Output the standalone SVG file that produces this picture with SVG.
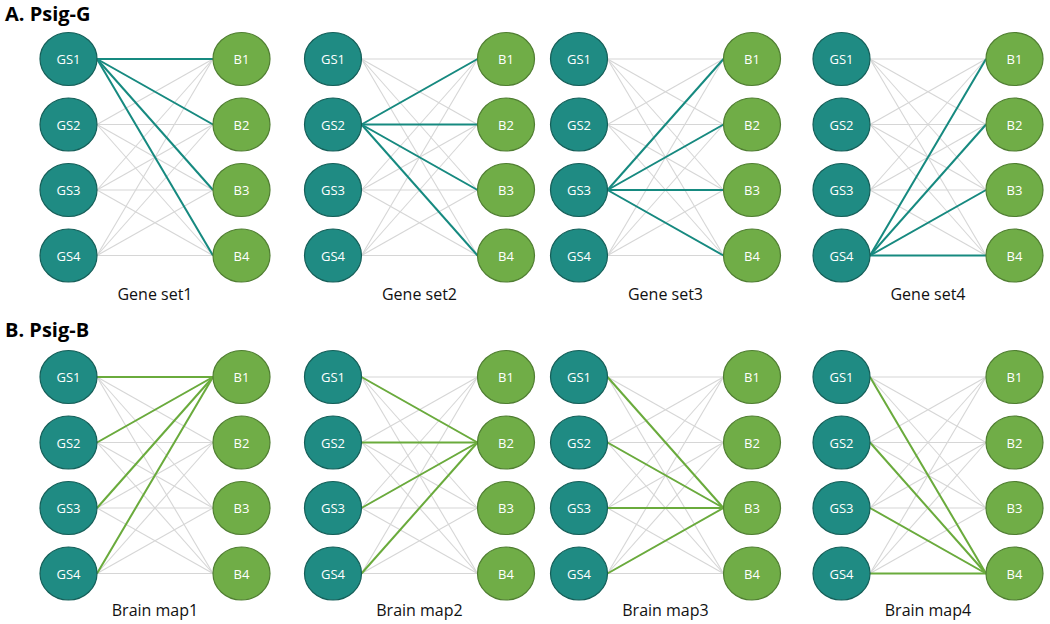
<svg xmlns="http://www.w3.org/2000/svg" width="1050" height="624" viewBox="0 0 1050 624">
<style>
.gs{fill:#1f8b83;stroke:#155f59;stroke-width:1.2}
.b{fill:#70ad47;stroke:#507e32;stroke-width:1.2}
.nt{font-family:"Open Sans","Liberation Sans",sans-serif;font-size:13px;fill:#fff;text-anchor:middle;dominant-baseline:central}
.lab{font-family:"Open Sans","Liberation Sans",sans-serif;font-size:16px;fill:#111;text-anchor:middle}
.ttl{font-family:"Open Sans","Liberation Sans",sans-serif;font-size:20px;font-weight:bold;fill:#000}
.g{stroke:#d6d6d6;stroke-width:1.1;fill:none}
.ht{stroke:#168a80;stroke-width:2;fill:none}
.hg{stroke:#6aab3c;stroke-width:2;fill:none}
</style>
<defs>
<g id="grid">
<line class="g" x1="0" y1="0" x2="116" y2="0"/><line class="g" x1="0" y1="0" x2="116" y2="65.5"/><line class="g" x1="0" y1="0" x2="116" y2="131"/><line class="g" x1="0" y1="0" x2="116" y2="196.5"/>
<line class="g" x1="0" y1="65.5" x2="116" y2="0"/><line class="g" x1="0" y1="65.5" x2="116" y2="65.5"/><line class="g" x1="0" y1="65.5" x2="116" y2="131"/><line class="g" x1="0" y1="65.5" x2="116" y2="196.5"/>
<line class="g" x1="0" y1="131" x2="116" y2="0"/><line class="g" x1="0" y1="131" x2="116" y2="65.5"/><line class="g" x1="0" y1="131" x2="116" y2="131"/><line class="g" x1="0" y1="131" x2="116" y2="196.5"/>
<line class="g" x1="0" y1="196.5" x2="116" y2="0"/><line class="g" x1="0" y1="196.5" x2="116" y2="65.5"/><line class="g" x1="0" y1="196.5" x2="116" y2="131"/><line class="g" x1="0" y1="196.5" x2="116" y2="196.5"/>
</g>
</defs>
<text class="ttl" x="5" y="21">A. Psig-G</text>
<text class="ttl" x="5" y="337">B. Psig-B</text>
<g id="connectors">
<use href="#grid" x="97" y="59"/>
<use href="#grid" x="361.5" y="59"/>
<use href="#grid" x="607.5" y="59"/>
<use href="#grid" x="870" y="59"/>
<use href="#grid" x="97" y="377"/>
<use href="#grid" x="361.5" y="377"/>
<use href="#grid" x="607.5" y="377"/>
<use href="#grid" x="870" y="377"/>
<line class="ht" x1="97" y1="59" x2="213" y2="59"/><line class="ht" x1="97" y1="59" x2="213" y2="124.5"/><line class="ht" x1="97" y1="59" x2="213" y2="190"/><line class="ht" x1="97" y1="59" x2="213" y2="255.5"/>
<line class="ht" x1="361.5" y1="124.5" x2="477.5" y2="59"/><line class="ht" x1="361.5" y1="124.5" x2="477.5" y2="124.5"/><line class="ht" x1="361.5" y1="124.5" x2="477.5" y2="190"/><line class="ht" x1="361.5" y1="124.5" x2="477.5" y2="255.5"/>
<line class="ht" x1="607.5" y1="190" x2="723.5" y2="59"/><line class="ht" x1="607.5" y1="190" x2="723.5" y2="124.5"/><line class="ht" x1="607.5" y1="190" x2="723.5" y2="190"/><line class="ht" x1="607.5" y1="190" x2="723.5" y2="255.5"/>
<line class="ht" x1="870" y1="255.5" x2="986" y2="59"/><line class="ht" x1="870" y1="255.5" x2="986" y2="124.5"/><line class="ht" x1="870" y1="255.5" x2="986" y2="190"/><line class="ht" x1="870" y1="255.5" x2="986" y2="255.5"/>
<line class="hg" x1="97" y1="377" x2="213" y2="377"/><line class="hg" x1="97" y1="442.5" x2="213" y2="377"/><line class="hg" x1="97" y1="508" x2="213" y2="377"/><line class="hg" x1="97" y1="573.5" x2="213" y2="377"/>
<line class="hg" x1="361.5" y1="377" x2="477.5" y2="442.5"/><line class="hg" x1="361.5" y1="442.5" x2="477.5" y2="442.5"/><line class="hg" x1="361.5" y1="508" x2="477.5" y2="442.5"/><line class="hg" x1="361.5" y1="573.5" x2="477.5" y2="442.5"/>
<line class="hg" x1="607.5" y1="377" x2="723.5" y2="508"/><line class="hg" x1="607.5" y1="442.5" x2="723.5" y2="508"/><line class="hg" x1="607.5" y1="508" x2="723.5" y2="508"/><line class="hg" x1="607.5" y1="573.5" x2="723.5" y2="508"/>
<line class="hg" x1="870" y1="377" x2="986" y2="573.5"/><line class="hg" x1="870" y1="442.5" x2="986" y2="573.5"/><line class="hg" x1="870" y1="508" x2="986" y2="573.5"/><line class="hg" x1="870" y1="573.5" x2="986" y2="573.5"/>
</g>
<g id="A1-GS1"><ellipse class="gs" cx="68.5" cy="59" rx="28.5" ry="26.5"/><text class="nt" x="68.5" y="59">GS1</text></g>
<g id="A1-GS2"><ellipse class="gs" cx="68.5" cy="124.5" rx="28.5" ry="26.5"/><text class="nt" x="68.5" y="124.5">GS2</text></g>
<g id="A1-GS3"><ellipse class="gs" cx="68.5" cy="190" rx="28.5" ry="26.5"/><text class="nt" x="68.5" y="190">GS3</text></g>
<g id="A1-GS4"><ellipse class="gs" cx="68.5" cy="255.5" rx="28.5" ry="26.5"/><text class="nt" x="68.5" y="255.5">GS4</text></g>
<g id="A1-B1"><ellipse class="b" cx="241.5" cy="59" rx="28.5" ry="26.5"/><text class="nt" x="241.5" y="59">B1</text></g>
<g id="A1-B2"><ellipse class="b" cx="241.5" cy="124.5" rx="28.5" ry="26.5"/><text class="nt" x="241.5" y="124.5">B2</text></g>
<g id="A1-B3"><ellipse class="b" cx="241.5" cy="190" rx="28.5" ry="26.5"/><text class="nt" x="241.5" y="190">B3</text></g>
<g id="A1-B4"><ellipse class="b" cx="241.5" cy="255.5" rx="28.5" ry="26.5"/><text class="nt" x="241.5" y="255.5">B4</text></g>
<text class="lab" x="155" y="300">Gene set1</text>

<g id="A2-GS1"><ellipse class="gs" cx="333" cy="59" rx="28.5" ry="26.5"/><text class="nt" x="333" y="59">GS1</text></g>
<g id="A2-GS2"><ellipse class="gs" cx="333" cy="124.5" rx="28.5" ry="26.5"/><text class="nt" x="333" y="124.5">GS2</text></g>
<g id="A2-GS3"><ellipse class="gs" cx="333" cy="190" rx="28.5" ry="26.5"/><text class="nt" x="333" y="190">GS3</text></g>
<g id="A2-GS4"><ellipse class="gs" cx="333" cy="255.5" rx="28.5" ry="26.5"/><text class="nt" x="333" y="255.5">GS4</text></g>
<g id="A2-B1"><ellipse class="b" cx="506" cy="59" rx="28.5" ry="26.5"/><text class="nt" x="506" y="59">B1</text></g>
<g id="A2-B2"><ellipse class="b" cx="506" cy="124.5" rx="28.5" ry="26.5"/><text class="nt" x="506" y="124.5">B2</text></g>
<g id="A2-B3"><ellipse class="b" cx="506" cy="190" rx="28.5" ry="26.5"/><text class="nt" x="506" y="190">B3</text></g>
<g id="A2-B4"><ellipse class="b" cx="506" cy="255.5" rx="28.5" ry="26.5"/><text class="nt" x="506" y="255.5">B4</text></g>
<text class="lab" x="419.5" y="300">Gene set2</text>

<g id="A3-GS1"><ellipse class="gs" cx="579" cy="59" rx="28.5" ry="26.5"/><text class="nt" x="579" y="59">GS1</text></g>
<g id="A3-GS2"><ellipse class="gs" cx="579" cy="124.5" rx="28.5" ry="26.5"/><text class="nt" x="579" y="124.5">GS2</text></g>
<g id="A3-GS3"><ellipse class="gs" cx="579" cy="190" rx="28.5" ry="26.5"/><text class="nt" x="579" y="190">GS3</text></g>
<g id="A3-GS4"><ellipse class="gs" cx="579" cy="255.5" rx="28.5" ry="26.5"/><text class="nt" x="579" y="255.5">GS4</text></g>
<g id="A3-B1"><ellipse class="b" cx="752" cy="59" rx="28.5" ry="26.5"/><text class="nt" x="752" y="59">B1</text></g>
<g id="A3-B2"><ellipse class="b" cx="752" cy="124.5" rx="28.5" ry="26.5"/><text class="nt" x="752" y="124.5">B2</text></g>
<g id="A3-B3"><ellipse class="b" cx="752" cy="190" rx="28.5" ry="26.5"/><text class="nt" x="752" y="190">B3</text></g>
<g id="A3-B4"><ellipse class="b" cx="752" cy="255.5" rx="28.5" ry="26.5"/><text class="nt" x="752" y="255.5">B4</text></g>
<text class="lab" x="665.5" y="300">Gene set3</text>

<g id="A4-GS1"><ellipse class="gs" cx="841.5" cy="59" rx="28.5" ry="26.5"/><text class="nt" x="841.5" y="59">GS1</text></g>
<g id="A4-GS2"><ellipse class="gs" cx="841.5" cy="124.5" rx="28.5" ry="26.5"/><text class="nt" x="841.5" y="124.5">GS2</text></g>
<g id="A4-GS3"><ellipse class="gs" cx="841.5" cy="190" rx="28.5" ry="26.5"/><text class="nt" x="841.5" y="190">GS3</text></g>
<g id="A4-GS4"><ellipse class="gs" cx="841.5" cy="255.5" rx="28.5" ry="26.5"/><text class="nt" x="841.5" y="255.5">GS4</text></g>
<g id="A4-B1"><ellipse class="b" cx="1014.5" cy="59" rx="28.5" ry="26.5"/><text class="nt" x="1014.5" y="59">B1</text></g>
<g id="A4-B2"><ellipse class="b" cx="1014.5" cy="124.5" rx="28.5" ry="26.5"/><text class="nt" x="1014.5" y="124.5">B2</text></g>
<g id="A4-B3"><ellipse class="b" cx="1014.5" cy="190" rx="28.5" ry="26.5"/><text class="nt" x="1014.5" y="190">B3</text></g>
<g id="A4-B4"><ellipse class="b" cx="1014.5" cy="255.5" rx="28.5" ry="26.5"/><text class="nt" x="1014.5" y="255.5">B4</text></g>
<text class="lab" x="928" y="300">Gene set4</text>

<g id="B1-GS1"><ellipse class="gs" cx="68.5" cy="377" rx="28.5" ry="26.5"/><text class="nt" x="68.5" y="377">GS1</text></g>
<g id="B1-GS2"><ellipse class="gs" cx="68.5" cy="442.5" rx="28.5" ry="26.5"/><text class="nt" x="68.5" y="442.5">GS2</text></g>
<g id="B1-GS3"><ellipse class="gs" cx="68.5" cy="508" rx="28.5" ry="26.5"/><text class="nt" x="68.5" y="508">GS3</text></g>
<g id="B1-GS4"><ellipse class="gs" cx="68.5" cy="573.5" rx="28.5" ry="26.5"/><text class="nt" x="68.5" y="573.5">GS4</text></g>
<g id="B1-B1"><ellipse class="b" cx="241.5" cy="377" rx="28.5" ry="26.5"/><text class="nt" x="241.5" y="377">B1</text></g>
<g id="B1-B2"><ellipse class="b" cx="241.5" cy="442.5" rx="28.5" ry="26.5"/><text class="nt" x="241.5" y="442.5">B2</text></g>
<g id="B1-B3"><ellipse class="b" cx="241.5" cy="508" rx="28.5" ry="26.5"/><text class="nt" x="241.5" y="508">B3</text></g>
<g id="B1-B4"><ellipse class="b" cx="241.5" cy="573.5" rx="28.5" ry="26.5"/><text class="nt" x="241.5" y="573.5">B4</text></g>
<text class="lab" x="155" y="616">Brain map1</text>

<g id="B2-GS1"><ellipse class="gs" cx="333" cy="377" rx="28.5" ry="26.5"/><text class="nt" x="333" y="377">GS1</text></g>
<g id="B2-GS2"><ellipse class="gs" cx="333" cy="442.5" rx="28.5" ry="26.5"/><text class="nt" x="333" y="442.5">GS2</text></g>
<g id="B2-GS3"><ellipse class="gs" cx="333" cy="508" rx="28.5" ry="26.5"/><text class="nt" x="333" y="508">GS3</text></g>
<g id="B2-GS4"><ellipse class="gs" cx="333" cy="573.5" rx="28.5" ry="26.5"/><text class="nt" x="333" y="573.5">GS4</text></g>
<g id="B2-B1"><ellipse class="b" cx="506" cy="377" rx="28.5" ry="26.5"/><text class="nt" x="506" y="377">B1</text></g>
<g id="B2-B2"><ellipse class="b" cx="506" cy="442.5" rx="28.5" ry="26.5"/><text class="nt" x="506" y="442.5">B2</text></g>
<g id="B2-B3"><ellipse class="b" cx="506" cy="508" rx="28.5" ry="26.5"/><text class="nt" x="506" y="508">B3</text></g>
<g id="B2-B4"><ellipse class="b" cx="506" cy="573.5" rx="28.5" ry="26.5"/><text class="nt" x="506" y="573.5">B4</text></g>
<text class="lab" x="419.5" y="616">Brain map2</text>

<g id="B3-GS1"><ellipse class="gs" cx="579" cy="377" rx="28.5" ry="26.5"/><text class="nt" x="579" y="377">GS1</text></g>
<g id="B3-GS2"><ellipse class="gs" cx="579" cy="442.5" rx="28.5" ry="26.5"/><text class="nt" x="579" y="442.5">GS2</text></g>
<g id="B3-GS3"><ellipse class="gs" cx="579" cy="508" rx="28.5" ry="26.5"/><text class="nt" x="579" y="508">GS3</text></g>
<g id="B3-GS4"><ellipse class="gs" cx="579" cy="573.5" rx="28.5" ry="26.5"/><text class="nt" x="579" y="573.5">GS4</text></g>
<g id="B3-B1"><ellipse class="b" cx="752" cy="377" rx="28.5" ry="26.5"/><text class="nt" x="752" y="377">B1</text></g>
<g id="B3-B2"><ellipse class="b" cx="752" cy="442.5" rx="28.5" ry="26.5"/><text class="nt" x="752" y="442.5">B2</text></g>
<g id="B3-B3"><ellipse class="b" cx="752" cy="508" rx="28.5" ry="26.5"/><text class="nt" x="752" y="508">B3</text></g>
<g id="B3-B4"><ellipse class="b" cx="752" cy="573.5" rx="28.5" ry="26.5"/><text class="nt" x="752" y="573.5">B4</text></g>
<text class="lab" x="665.5" y="616">Brain map3</text>

<g id="B4-GS1"><ellipse class="gs" cx="841.5" cy="377" rx="28.5" ry="26.5"/><text class="nt" x="841.5" y="377">GS1</text></g>
<g id="B4-GS2"><ellipse class="gs" cx="841.5" cy="442.5" rx="28.5" ry="26.5"/><text class="nt" x="841.5" y="442.5">GS2</text></g>
<g id="B4-GS3"><ellipse class="gs" cx="841.5" cy="508" rx="28.5" ry="26.5"/><text class="nt" x="841.5" y="508">GS3</text></g>
<g id="B4-GS4"><ellipse class="gs" cx="841.5" cy="573.5" rx="28.5" ry="26.5"/><text class="nt" x="841.5" y="573.5">GS4</text></g>
<g id="B4-B1"><ellipse class="b" cx="1014.5" cy="377" rx="28.5" ry="26.5"/><text class="nt" x="1014.5" y="377">B1</text></g>
<g id="B4-B2"><ellipse class="b" cx="1014.5" cy="442.5" rx="28.5" ry="26.5"/><text class="nt" x="1014.5" y="442.5">B2</text></g>
<g id="B4-B3"><ellipse class="b" cx="1014.5" cy="508" rx="28.5" ry="26.5"/><text class="nt" x="1014.5" y="508">B3</text></g>
<g id="B4-B4"><ellipse class="b" cx="1014.5" cy="573.5" rx="28.5" ry="26.5"/><text class="nt" x="1014.5" y="573.5">B4</text></g>
<text class="lab" x="928" y="616">Brain map4</text>
</svg>
